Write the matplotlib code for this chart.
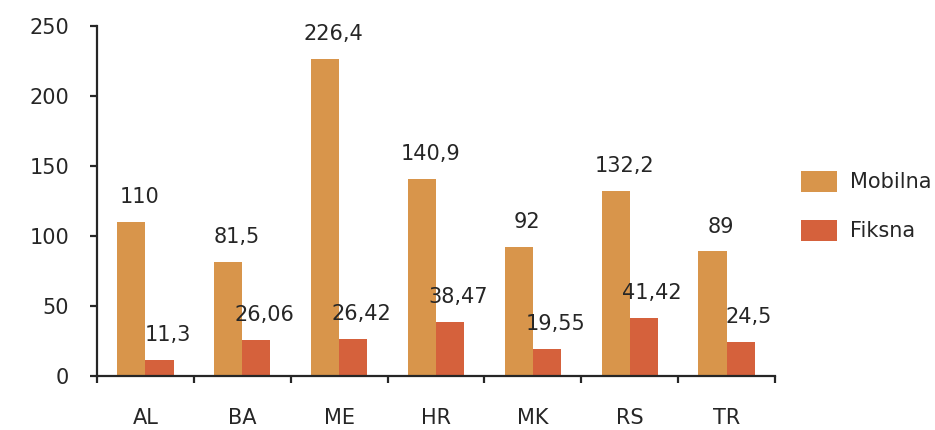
import numpy as np
import matplotlib
matplotlib.use("Agg")
import matplotlib.pyplot as plt

categories = ["AL", "BA", "ME", "HR", "MK", "RS", "TR"]
mobilna = [110, 81.5, 226.4, 140.9, 92, 132.2, 89]
fiksna = [11.3, 26.06, 26.42, 38.47, 19.55, 41.42, 24.5]
mobilna_labels = ["110", "81,5", "226,4", "140,9", "92", "132,2", "89"]
fiksna_labels = ["11,3", "26,06", "26,42", "38,47", "19,55", "41,42", "24,5"]
yticks = [0, 50, 100, 150, 200, 250]

col_mob = "#D8954B"
col_fik = "#D5613C"
txt = "#262626"

plt.rcParams["font.family"] = "DejaVu Sans"

fig = plt.figure(figsize=(9.35, 4.3), dpi=100)
ax = fig.add_axes([97 / 935, 54 / 430, 678 / 935, 350 / 430])

x = np.arange(len(categories))
w = 0.29
ax.bar(x - w / 2, mobilna, w, color=col_mob, label="Mobilna")
ax.bar(x + w / 2, fiksna, w, color=col_fik, label="Fiksna")

# value labels, Excel style (slightly right of bar centre)
for xi, v, s in zip(x - w / 2, mobilna, mobilna_labels):
    ax.annotate(s, (xi, v), xytext=(6, 13.5), textcoords="offset points",
                ha="center", va="baseline", fontsize=15, color=txt)
for xi, v, s in zip(x + w / 2, fiksna, fiksna_labels):
    ax.annotate(s, (xi, v), xytext=(6, 13.5), textcoords="offset points",
                ha="center", va="baseline", fontsize=15, color=txt)

ax.set_xlim(-0.5, len(categories) - 0.5)
ax.set_ylim(0, 250)
ax.set_yticks(yticks)
ax.set_yticklabels([str(t) for t in yticks])

ax.set_xticks(x)
ax.set_xticklabels(categories)
ax.set_xticks(np.arange(len(categories) + 1) - 0.5, minor=True)

for side in ["top", "right"]:
    ax.spines[side].set_visible(False)
for side in ["left", "bottom"]:
    ax.spines[side].set_linewidth(1.6)
    ax.spines[side].set_color(txt)

ax.tick_params(axis="y", length=5, width=1.6, color=txt, pad=15,
               labelsize=15, labelcolor=txt)
ax.tick_params(axis="x", which="major", length=0, pad=23,
               labelsize=15, labelcolor=txt)
ax.tick_params(axis="x", which="minor", length=5, width=1.6, color=txt)

fig.legend(loc="center left", bbox_to_anchor=(801 / 935, 0.521),
           frameon=False, fontsize=15, handlelength=1.71, handleheight=1.19,
           handletextpad=0.62, labelspacing=1.31, borderpad=0,
           borderaxespad=0, labelcolor=txt)

fig.savefig("out.png", dpi=100)
